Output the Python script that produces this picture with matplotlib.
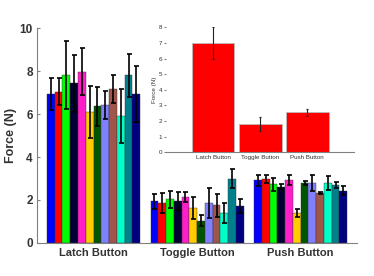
import matplotlib
matplotlib.use("Agg")
import matplotlib.pyplot as plt
import numpy as np

plt.rcParams['font.family'] = ['Liberation Sans', 'DejaVu Sans']

# Données principales : 12 sujets x 3 boutons
boutons = ["Latch Button", "Toggle Button", "Push Button"]

latch_moy = [6.95, 7.05, 7.83, 7.44, 7.99, 6.10, 6.37, 6.43, 7.18, 5.92, 7.82, 6.95]
latch_err = [0.76, 0.62, 1.58, 1.34, 1.10, 1.20, 0.92, 0.67, 0.67, 1.26, 1.00, 1.32]

toggle_moy = [1.93, 1.85, 2.04, 1.96, 2.13, 1.62, 1.04, 1.85, 1.76, 1.39, 3.00, 1.71]
toggle_err = [0.36, 0.47, 0.40, 0.42, 0.23, 0.50, 0.24, 0.69, 0.54, 0.48, 0.43, 0.33]

push_moy = [2.91, 2.98, 2.74, 2.60, 2.94, 1.39, 2.79, 2.79, 2.32, 2.79, 2.70, 2.44]
push_err = [0.27, 0.17, 0.30, 0.14, 0.24, 0.20, 0.08, 0.36, 0.06, 0.31, 0.14, 0.21]

# Moyennes globales (encart)
global_moy = [7.00, 1.81, 2.56]
global_err = [1.05, 0.43, 0.23]

couleurs = ["#0000ff", "#ff0000", "#00ff00", "#000033", "#ff1ec8", "#ffcc00",
            "#005500", "#8080ff", "#a0554b", "#00ffc8", "#00808c", "#000080"]

fig = plt.figure(figsize=(3.74, 2.76), dpi=100)

# Axe principal
ax = fig.add_axes([0.099, 0.12, 0.856, 0.777])
moyennes = np.array([latch_moy, toggle_moy, push_moy])
erreurs = np.array([latch_err, toggle_err, push_err])
n = len(couleurs)
larg_groupe = 0.9
larg = larg_groupe / n
x = np.arange(len(boutons))
for i in range(n):
    pos = x - larg_groupe / 2 + larg * (i + 0.5)
    ax.bar(pos, moyennes[:, i], width=larg, color=couleurs[i],
           edgecolor="#333333", linewidth=0.3)
    ax.errorbar(pos, moyennes[:, i], yerr=erreurs[:, i], fmt="none",
                ecolor="black", elinewidth=1.2, capsize=1.8, capthick=1.2)

ax.set_xlim(-0.546, 2.546)
ax.set_ylim(0, 10)
ax.set_yticks([0, 2, 4, 6, 8, 10])
ax.set_xticks(x)
ax.set_xticklabels(boutons, fontsize=8, fontweight="bold", color="#333333")
ax.tick_params(axis="x", length=0, pad=4)
ax.tick_params(axis="y", labelsize=8.5, direction="in", length=2, color="gray", pad=3)
for lab in ax.get_yticklabels():
    lab.set_fontweight("bold")
    lab.set_color("#333333")
ax.set_ylabel("Force (N)", fontsize=9, fontweight="bold", color="#333333", labelpad=2)
for s in ["top", "right"]:
    ax.spines[s].set_visible(False)
for s in ["left", "bottom"]:
    ax.spines[s].set_color("gray")

# Encart : moyennes par bouton
axi = fig.add_axes([0.444, 0.448, 0.503, 0.453])
xi = np.arange(1, 4)
axi.bar(xi, global_moy, width=0.91, color="#ff0000", edgecolor="#bbbbbb", linewidth=0.6)
axi.errorbar(xi, global_moy, yerr=global_err, fmt="none", ecolor="#222222",
             elinewidth=0.8, capsize=0.8, capthick=0.8)
axi.set_xlim(0, 4)
axi.set_ylim(0, 8)
axi.set_yticks(range(0, 9))
axi.set_xticks(xi)
axi.set_xticklabels(boutons, fontsize=4.5, color="#333333")
axi.tick_params(axis="x", length=0, pad=2)
axi.tick_params(axis="y", labelsize=4.5, length=1.5, color="gray", pad=1.5, labelcolor="#333333")
axi.set_ylabel("Force (N)", fontsize=4.5, color="#333333", labelpad=1)
for s in ["top", "right", "left"]:
    axi.spines[s].set_visible(False)
axi.spines["bottom"].set_color("gray")
axi.patch.set_alpha(0)

fig.savefig("out.png", dpi=100)
